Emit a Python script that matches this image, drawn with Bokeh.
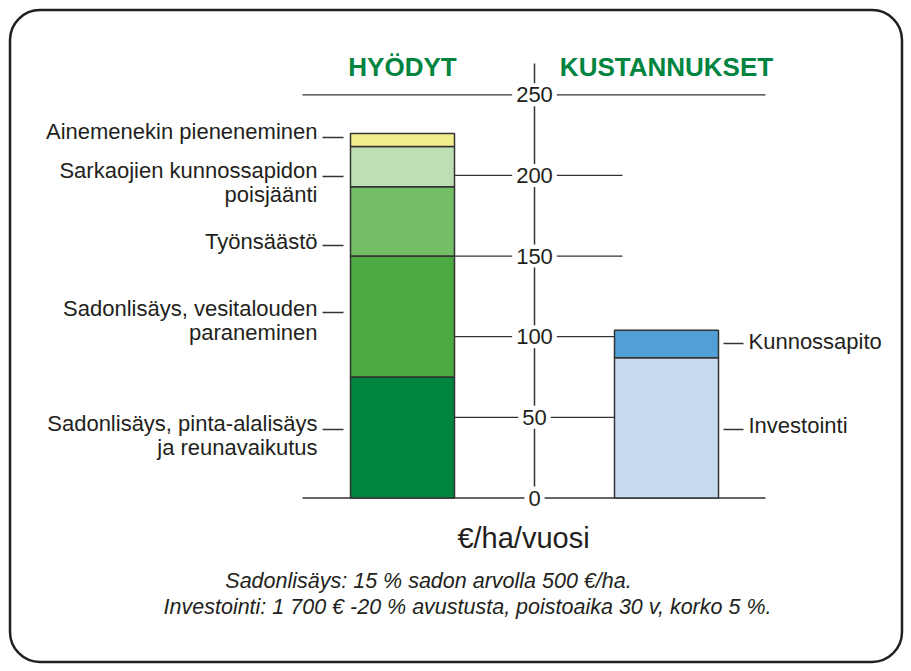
import numpy as np
from bokeh.plotting import figure
from bokeh.models import ColumnDataSource, BoxAnnotation
from bokeh.core.properties import value
from bokeh.embed import file_html
from bokeh.resources import INLINE

# ---------------- data ----------------
group_names = ["HYÖDYT", "KUSTANNUKSET"]
benefit_labels = [
    "Sadonlisäys, pinta-alalisäys\nja reunavaikutus",
    "Sadonlisäys, vesitalouden\nparaneminen",
    "Työnsäästö",
    "Sarkaojien kunnossapidon\npoisjäänti",
    "Ainemenekin pieneneminen",
]
benefit_values = [75, 75, 43, 25, 8]
cost_labels = ["Investointi", "Kunnossapito"]
cost_values = [87, 17]
tick_values = [0, 50, 100, 150, 200, 250]
tick_labels = ["0", "50", "100", "150", "200", "250"]
unit_label = "€/ha/vuosi"
notes = [
    "Sadonlisäys: 15 % sadon arvolla 500 €/ha.",
    "Investointi: 1 700 € -20 % avustusta, poistoaika 30 v, korko  5 %.",
]

# ---------------- style / layout ----------------
benefit_colors = ["#00853F", "#4BAA42", "#74BF65", "#BEDFB3", "#F2EE8D"]
cost_colors = ["#C8DBF0", "#519FD5"]
GREEN = "#00843F"
INK = "#231F20"
LINE = "#333333"
FONT = "Liberation Sans"

W, H = 905, 665
AX_X = 534.0      # page x of the value axis
XS = 132.0        # pixels per x unit
Y0 = 497.5        # page y of value 0
YS = 1.6128       # pixels per value unit


def xd(px):
    return (px - AX_X) / XS


def yd(py):
    return (Y0 - py) / YS


BAR_W = 104 / XS
x_benefit, x_cost = -1.0, 1.0

p = figure(width=W, height=H,
           x_range=(xd(0), xd(W)), y_range=(yd(H), yd(0)),
           x_axis_type=None, y_axis_type=None,
           toolbar_location=None, output_backend="svg", min_border=0)
p.outline_line_color = None
p.background_fill_color = "white"
p.border_fill_color = "white"

# rounded frame
p.add_layout(BoxAnnotation(left=xd(9.5), right=xd(901.5), top=yd(9.5), bottom=yd(661.5),
                           fill_color=None, fill_alpha=0, line_color=INK, line_alpha=1.0,
                           line_width=2.5, border_radius=30))

# tick lines (full width at ends, short between bars otherwise)
tmin, tmax = min(tick_values), max(tick_values)
x0s, x1s = [], []
for t in tick_values:
    if t in (tmin, tmax):
        x0s.append(xd(302)); x1s.append(xd(765))
    else:
        x0s.append(xd(446)); x1s.append(xd(622))
p.segment(x0=x0s, y0=tick_values, x1=x1s, y1=tick_values, line_color=LINE, line_width=1.3)

# value axis line
p.segment(x0=[0], y0=[tmin], x1=[0], y1=[yd(63)], line_color=LINE, line_width=1.5)

# bars
b_top = np.cumsum(benefit_values)
b_bot = b_top - np.array(benefit_values)
p.vbar(x="x", bottom="bottom", top="top", width=BAR_W, fill_color="color",
       line_color=LINE, line_width=1.5,
       source=ColumnDataSource(dict(x=[x_benefit] * len(benefit_values), bottom=b_bot,
                                    top=b_top, color=benefit_colors)))
c_top = np.cumsum(cost_values)
c_bot = c_top - np.array(cost_values)
p.vbar(x="x", bottom="bottom", top="top", width=BAR_W, fill_color="color",
       line_color=LINE, line_width=1.5,
       source=ColumnDataSource(dict(x=[x_cost] * len(cost_values), bottom=c_bot,
                                    top=c_top, color=cost_colors)))

# tick labels with white background breaking the lines
p.text(x=[0] * len(tick_values), y=tick_values, text=tick_labels,
       text_align="center", text_baseline="middle", text_font=value(FONT),
       text_font_size="22px", text_color=INK,
       background_fill_color="white", padding=4)

# headings
p.text(x=[x_benefit, x_cost], y=[yd(66)] * 2, text=group_names,
       text_align="center", text_baseline="middle", text_font=value(FONT),
       text_font_size="26px", text_font_style="bold", text_color=GREEN)

# left labels + leader dashes
left_text_y = [yd(v) for v in (435, 319.5, 241, 182, 131)]
left_dash_y = [yd(v) for v in (429, 312, 245, 176, 137)]
p.text(x=[xd(317)] * len(benefit_labels), y=left_text_y, text=benefit_labels,
       text_align="right", text_baseline="middle", text_font=value(FONT),
       text_font_size="22px", text_color=INK, text_line_height=0.96)
p.segment(x0=[xd(322)] * 5, y0=left_dash_y, x1=[xd(343)] * 5, y1=left_dash_y,
          line_color=LINE, line_width=1.5)

# right labels + leader dashes
right_text_y = [yd(v) for v in (425, 341)]
right_dash_y = [yd(v) for v in (429, 343)]
p.text(x=[xd(748)] * len(cost_labels), y=right_text_y, text=cost_labels,
       text_align="left", text_baseline="middle", text_font=value(FONT),
       text_font_size="22px", text_color=INK)
p.segment(x0=[xd(723)] * 2, y0=right_dash_y, x1=[xd(743)] * 2, y1=right_dash_y,
          line_color=LINE, line_width=1.5)

# unit
p.text(x=[xd(523)], y=[yd(537)], text=[unit_label], text_align="center",
       text_baseline="middle", text_font=value(FONT), text_font_size="29px",
       text_color=INK)

# footnotes
p.text(x=[xd(428), xd(470)], y=[yd(580), yd(606)], text=notes, text_align="center",
       text_baseline="middle", text_font=value(FONT), text_font_size="21.5px",
       text_font_style="italic", text_color=INK)

open("out.html", "w").write(file_html(p, INLINE))
